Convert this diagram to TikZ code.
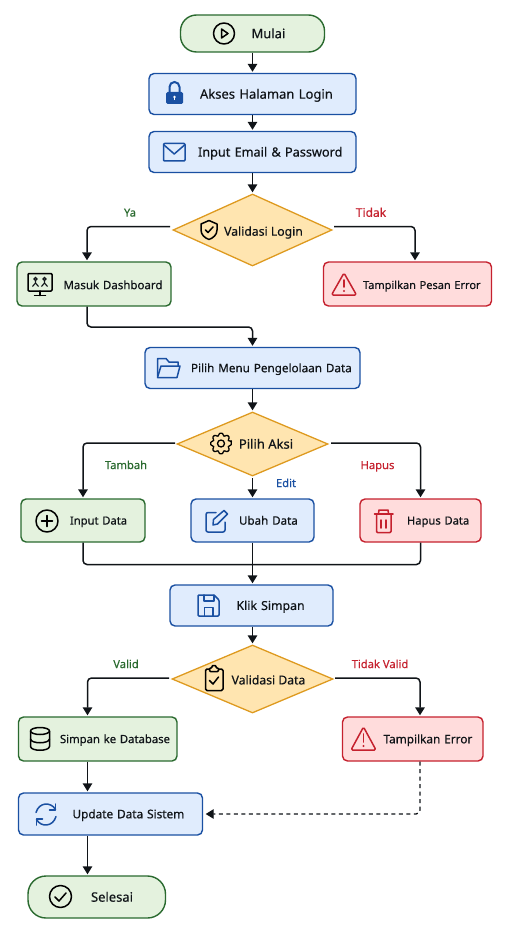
\documentclass[tikz,border=0pt]{standalone}
\usepackage{fontspec}
\setmainfont{Noto Sans}[FakeBold=0.4]
\usetikzlibrary{arrows.meta,calc,shapes.geometric}
\definecolor{fcGreen}  {HTML}{2A6A2F}
\definecolor{fcGreenBg}{HTML}{E4F2DE}
\definecolor{fcBlue}   {HTML}{1A50A2}
\definecolor{fcBlueBg} {HTML}{E0ECFD}
\definecolor{fcRed}    {HTML}{C5212E}
\definecolor{fcRedBg}  {HTML}{FFDCDC}
\definecolor{fcGold}   {HTML}{DE9A1F}
\definecolor{fcGoldBg} {HTML}{FFE5B0}
\definecolor{fcInk}    {HTML}{101418}
\newcommand{\fsz}[1]{\fontsize{#1}{#1}\selectfont}
\newcommand{\off}[1]{\hspace*{#1pt}}

\begin{document}
\begin{tikzpicture}[x=1pt,y=-1pt,font=\fsz{11},text=fcInk,
      fs/.style={font=\fsz{#1},text height={0.72*#1*1pt},text depth=0pt},
      base/.style={draw,line width=1.4pt,rounded corners=5pt,minimum height=42,
                   inner xsep=0pt,inner ysep=0pt,align=left},
      wd/.style={minimum width=#1,text width=#1},
      gbox/.style={base,draw=fcGreen,fill=fcGreenBg},
      bbox/.style={base,draw=fcBlue,fill=fcBlueBg},
      rbox/.style={base,draw=fcRed,fill=fcRedBg},
      pill/.style={gbox,rounded corners=16pt},
      dec/.style={diamond,draw=fcGold,fill=fcGoldBg,line width=1.3pt,inner sep=0pt,
                  shape aspect=2.25},
      flow/.style={-{Triangle[length=8pt,width=9.5pt]},fcInk,line width=1.5pt,
                   rounded corners=4pt,shorten >=1pt},
      lbl/.style={fs=11.2,inner sep=0pt},
      ic/.style={line width=1.5pt,line join=round,line cap=round,fill=none}]

    \useasboundingbox (0,0) rectangle (506,936);

    \node[pill,wd=144,minimum height=37,fs=13] (start) at (252.5,33.5) {\off{71}Mulai};
    \node[bbox,wd=207,minimum height=41,fs=13] (akses) at (252.5,94) {\off{51}Akses Halaman Login};
    \node[bbox,wd=207,minimum height=41,fs=12.7] (email) at (252.5,152) {\off{49}Input Email \& Password};
    \node[dec,minimum width=159,minimum height=72,fs=12.2] (vlogin) at (252.5,230) {\off{22}\raisebox{-1.3pt}{Validasi Login}};
    \node[gbox,wd=154,minimum height=44,fs=11.5] (dash) at (94,284) {\off{46.5}\raisebox{-1pt}{Masuk Dashboard}};
    \node[rbox,wd=168,minimum height=44,fs=11] (pesan) at (407.5,284) {\off{39.5}\raisebox{-1pt}{Tampilkan Pesan Error}};
    \node[bbox,wd=215,minimum height=41,fs=11.7] (menu) at (252.5,368) {\off{46}Pilih Menu Pengelolaan Data};
    \node[dec,minimum width=151,minimum height=64,fs=13] (aksi) at (252.5,444) {\off{27}Pilih Aksi};
    \node[gbox,wd=124,minimum height=43,fs=11.2] (tambah) at (83,520.5) {\off{49}Input Data};
    \node[bbox,wd=123,minimum height=43,fs=11.6] (ubah) at (252.5,520.5) {\off{48}Ubah Data};
    \node[rbox,wd=121,minimum height=43,fs=11.2] (hapus) at (420.5,520.5) {\off{47}Hapus Data};
    \node[bbox,wd=163,minimum height=41,fs=12.3] (simpan) at (251.5,605.5) {\off{66.5}Klik Simpan};
    \node[dec,minimum width=161,minimum height=68,fs=12.2] (vdata) at (252.5,679) {\off{32}\raisebox{-1pt}{Validasi Data}};
    \node[gbox,wd=158.5,minimum height=44,fs=11.3] (db) at (97.75,739) {\off{41.5}Simpan ke Database};
    \node[rbox,wd=140.5,minimum height=44,fs=11.8] (terr) at (412.75,739) {\off{41}Tampilkan Error};
    \node[bbox,wd=184,minimum height=42,fs=11.8] (upd) at (110.5,814) {\off{54}Update Data Sistem};
    \node[pill,wd=137.5,minimum height=42,rounded corners=18pt,fs=13] (end) at (96.75,897) {\off{63}Selesai};

    \coordinate (vlogin-l) at (170,226.5);
    \coordinate (vlogin-r) at (334,226.5);
    \coordinate (aksi-l) at (175,443);
    \coordinate (aksi-r) at (331,443);
    \coordinate (aksi-b) at (252.5,478);
    \coordinate (vdata-l) at (169,678);
    \coordinate (vdata-r) at (335,678);

    \foreach \a/\b in {start/akses,akses/email,email/vlogin,menu/aksi}
      \draw[flow] (\a) -- (\b);
    \draw[flow] (aksi-b) -- (ubah);
    \draw[flow] (ubah) -- (ubah |- simpan.north);
    \draw[flow] (ubah |- simpan.south) -- (vdata);
    \draw[flow] (vlogin-l) -| ($(dash.north)+(-7,0)$);
    \draw[flow] (vlogin-r) -| ($(pesan.north)+(7.5,0)$);
    \draw[flow] ($(dash.south)+(-7,0)$) |- (252.5,327) -- (menu.north);
    \draw[flow] (aksi-l) -| (tambah.north);
    \draw[flow] (aksi-r) -| (hapus.north);
    \draw[line width=1.5pt,fcInk,rounded corners=4pt] (tambah.south) |- (252.5,564.5) -| (hapus.south);
    \draw[flow] (vdata-l) -| ($(db.north)+(-10.25,0)$);
    \draw[flow] (vdata-r) -| ($(terr.north)+(7.25,0)$);
    \draw[flow] ($(db.south)+(-10.25,0)$) -- ($(upd.north)+(-23,0)$);
    \draw[flow] ($(upd.south)+(-23,0)$) -- ($(end.north)+(-9.25,0)$);
    \draw[flow,dashed,line width=1.3pt,dash pattern=on 4pt off 3.5pt,shorten >=2.5pt] ($(terr.south)+(7.25,0)$) |- (upd.east);

    \node[lbl,text=fcGreen] (l-ya) at (130,212.5) {Ya};
    \node[lbl,text=fcRed,fs=12] (l-tidak) at (371,212.5) {Tidak};
    \node[lbl,text=fcGreen] (l-tambah) at (126,465) {Tambah};
    \node[lbl,text=fcRed] (l-hapus) at (377.5,465) {Hapus};
    \node[lbl,text=fcBlue] (l-edit) at (286,483) {Edit};
    \node[lbl,text=fcGreen] (l-valid) at (126,664) {Valid};
    \node[lbl,text=fcRed] (l-tvalid) at (380,664) {Tidak Valid};

    \draw[ic] (224,33.5) circle (10.5);
    \draw[ic] (221.5,29) -- (228,33.5) -- (221.5,38) -- cycle;

    \draw[line width=2pt,fcBlue] (169.5,93) -- (169.5,87) arc[start angle=180,end angle=360,radius=5] -- (179.5,93);
    \fill[fcBlue,rounded corners=1.5pt] (166,92) rectangle (183,104);
    \fill[white] (174.5,97) circle (1.4);
    \draw[white,line width=1pt] (174.5,97) -- (174.5,100.5);

    \draw[ic,fcBlue,rounded corners=1pt] (163.5,143.5) rectangle (185,161);
    \draw[ic,fcBlue] (164,145) -- (174.25,154) -- (184.5,145);

    \draw[ic] (209,220.5) -- (201,224) -- (201,230) .. controls (201,235) and (205,238) .. (209,239.5)
      .. controls (213,238) and (217,235) .. (217,230) -- (217,224) -- cycle;
    \draw[ic] (205.5,230) -- (208,232.5) -- (213,227);

    \draw[ic,rounded corners=1pt] (28,273.5) rectangle (52,291);
    \draw[ic] (40,291) -- (40,295.5) (34.5,295.5) -- (45.5,295.5);
    \draw[line width=1.1pt,fcInk] (35.5,279) circle (1.5) (35.5,280.5) -- (35.5,283) (32.5,286.5) -- (35.5,283) -- (38.5,286.5);
    \draw[line width=1.1pt,fcInk] (44.5,279) circle (1.5) (44.5,280.5) -- (44.5,283) (41.5,286.5) -- (44.5,283) -- (47.5,286.5);

    \draw[ic,fcRed,rounded corners=1.5pt] (344,273) -- (356.5,295) -- (331.5,295) -- cycle;
    \draw[ic,fcRed,line width=1.7pt] (344,280) -- (344,287);
    \fill[fcRed] (344,291) circle (1.1);

    \draw[ic,fcBlue] (157.5,376) -- (157.5,358.5) -- (166,358.5) -- (169,362) -- (178,362) -- (178,366);
    \draw[ic,fcBlue] (157.5,377.5) -- (161,366) -- (180,366) -- (177,377.5) -- cycle;

    \begin{scope}[shift={(221,443.5)}]
      \draw[ic,line width=1.3pt,rounded corners=1pt] (-14:10.5)
        \foreach \t in {0,45,...,315} {-- (\t-10:10.5) -- (\t+10:10.5) -- (\t+17:8) -- (\t+28:8)} -- cycle;
      \draw[ic,line width=1.3pt] (0,0) circle (3.5);
    \end{scope}

    \draw[ic] (47,521) circle (11);
    \draw[ic] (41.5,521) -- (52.5,521) (47,515.5) -- (47,526.5);

    \draw[ic,fcBlue,rounded corners=2pt] (216,512.5) -- (206,512.5) -- (206,532) -- (225,532) -- (225,522);
    \draw[ic,fcBlue] (213,525) -- (213.5,519.5) -- (224,510.5) -- (227.5,514) -- (217.5,524) -- cycle;

    \draw[ic,fcRed] (374.5,514) -- (393,514);
    \draw[ic,fcRed] (378.5,513.5) -- (379,510) -- (388,510) -- (388.5,513.5);
    \draw[ic,fcRed,rounded corners=1pt] (376.5,514) -- (376.5,532.5) -- (391,532.5) -- (391,514);
    \draw[ic,fcRed] (381,520) -- (381,528) (386,520) -- (386,528);

    \draw[ic,fcBlue,rounded corners=1pt] (198,595) -- (214,595) -- (219,600) -- (219,616) -- (198,616) -- cycle;
    \draw[ic,fcBlue] (204,595) -- (204,601) -- (214,601) -- (214,595);
    \draw[ic,fcBlue] (204.5,616) -- (204.5,607.5) -- (213,607.5) -- (213,616);

    \draw[ic,rounded corners=1.5pt] (209.5,669) -- (205.5,669) -- (205.5,690.5) -- (223,690.5) -- (223,669) -- (218.5,669);
    \draw[ic,rounded corners=1pt] (209.5,671.5) -- (209.5,668) -- (212,668) -- (212,665.5) -- (216,665.5) -- (216,668) -- (218.5,668) -- (218.5,671.5) -- cycle;
    \draw[ic] (209.5,680.5) -- (213,684) -- (218.5,677);

    \draw[ic] (40,731) ellipse (9.5 and 3.5);
    \draw[ic] (30.5,731) -- (30.5,746.5) .. controls (31,751.5) and (49,751.5) .. (49.5,746.5) -- (49.5,731);
    \draw[ic] (30.5,739) .. controls (31,744) and (49,744) .. (49.5,739);

    \draw[ic,fcRed,rounded corners=1.5pt] (363.5,727) -- (376,750) -- (351,750) -- cycle;
    \draw[ic,fcRed,line width=1.7pt] (363.5,734) -- (363.5,742);
    \fill[fcRed] (363.5,746) circle (1.1);

    \begin{scope}[shift={(46,814.5)}]
      \draw[ic,fcBlue] (9.5,-5) .. controls (5,-13) and (-7,-12.5) .. (-10,-2);
      \draw[ic,fcBlue] (-9.5,5) .. controls (-5,13) and (7,12.5) .. (10,2);
      \draw[ic,fcBlue] (9.5,-10.5) -- (9.5,-4.5) -- (3.5,-4.5);
      \draw[ic,fcBlue] (-9.5,10.5) -- (-9.5,4.5) -- (-3.5,4.5);
    \end{scope}

    \draw[ic] (60.5,896.5) circle (11);
    \draw[ic] (55,897) -- (59,901) -- (66,893);
\end{tikzpicture}
\end{document}
